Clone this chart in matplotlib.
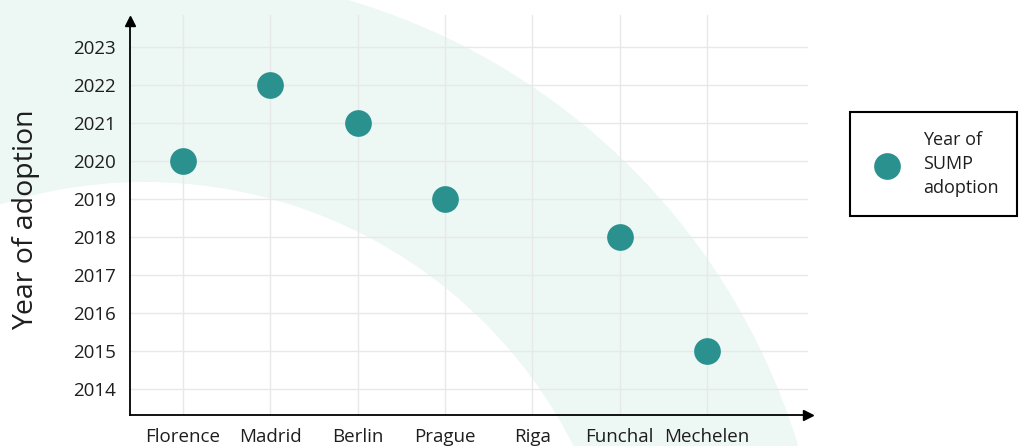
import matplotlib
matplotlib.use('Agg')
import matplotlib.pyplot as plt
from matplotlib.patches import Circle

plt.rcParams['font.family'] = ['Open Sans', 'DejaVu Sans']

cities = ['Florence', 'Madrid', 'Berlin', 'Prague', 'Riga', 'Funchal', 'Mechelen']
# Riga has no adoption year
adoption_year = [2020, 2022, 2021, 2019, None, 2018, 2015]
year_ticks = list(range(2014, 2024))

teal = '#2A918E'
band = '#EDF7F4'
text_col = '#1E1E1E'

W, H = 1022, 446
fig = plt.figure(figsize=(W / 100, H / 100), dpi=100)

# decorative arc band behind the chart (pixel space)
bg = fig.add_axes([0, 0, 1, 1], zorder=-1)
bg.set_xlim(0, W)
bg.set_ylim(H, 0)
bg.axis('off')
bg.add_patch(Circle((160, 640), 667, color=band, lw=0))
bg.add_patch(Circle((145, 662), 480, color='white', lw=0))

ax = fig.add_axes([130 / W, 31 / H, 678 / W, 400 / H])
ax.set_facecolor('none')

xs = [i for i, v in enumerate(adoption_year) if v is not None]
ys = [v for v in adoption_year if v is not None]
sc = ax.scatter(xs, ys, s=370, color=teal, zorder=3, linewidths=0,
                label='Year of\nSUMP\nadoption')

ax.set_xlim(-0.607, 7.157)
ax.set_ylim(2013.316, 2023.84)
ax.set_xticks(range(len(cities)))
ax.set_xticklabels(cities)
ax.set_yticks(year_ticks)
ax.set_yticklabels([str(y) for y in year_ticks])
ax.tick_params(length=0, labelsize=13.5, colors=text_col)
ax.tick_params(axis='x', pad=9)
ax.tick_params(axis='y', pad=10)

ax.grid(True, color='#E8E8E8', lw=1)
ax.set_axisbelow(True)
for s in ['top', 'right']:
    ax.spines[s].set_visible(False)
for s in ['left', 'bottom']:
    ax.spines[s].set_color('black')
    ax.spines[s].set_linewidth(1.3)
ax.spines['left'].set_bounds(2013.316, 2023.6)

# arrow heads on the axes
ax.plot([1.0], [0], marker='>', color='black', ms=7, transform=ax.transAxes, clip_on=False)
ax.plot([0], [0.985], marker='^', color='black', ms=7, transform=ax.transAxes, clip_on=False)

fig.text(26 / W, 1 - 220 / H, 'Year of adoption', rotation=90, ha='center', va='center',
         fontsize=20.5, color=text_col)

leg = fig.legend(handles=[sc], loc='center', bbox_to_anchor=(933.5 / W, 1 - 164 / H),
                 fancybox=False, edgecolor='black', framealpha=1, fontsize=13,
                 borderpad=1.05, handletextpad=1.0, scatterpoints=1, borderaxespad=0)
leg.get_frame().set_linewidth(1.5)
for t in leg.get_texts():
    t.set_linespacing(1.45)
    t.set_color(text_col)

fig.savefig('out.png', dpi=100)
